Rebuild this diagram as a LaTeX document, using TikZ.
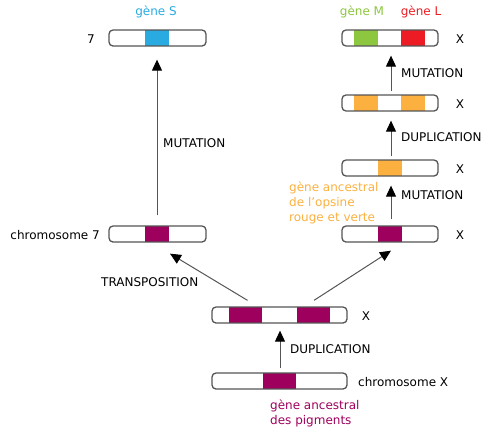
\documentclass[tikz,border=0pt]{standalone}
\usepackage{fontspec}
\setmainfont{DejaVu Sans}
\usetikzlibrary{arrows.meta}
\definecolor{cblue}{HTML}{29ABE2}
\definecolor{cgreen}{HTML}{8DC63F}
\definecolor{cred}{HTML}{ED1C24}
\definecolor{corange}{HTML}{FBB040}
\definecolor{cmag}{HTML}{9E005D}
\definecolor{cline}{HTML}{555555}
\tikzset{
  chrom/.style={draw=cline, line width=1.3pt, rounded corners=4pt, minimum height=16pt, inner sep=0pt},
  arr/.style={draw=cline, line width=1pt, -{Triangle[length=11pt,width=10pt,color=black,fill=black]}},
  lbl/.style={font=\fontsize{12}{14}\selectfont, inner sep=0pt},
  glbl/.style={lbl, align=left},
}
\begin{document}
\begin{tikzpicture}[x=1pt,y=-1pt]
\useasboundingbox (0,0) rectangle (497,432);
% bands
\fill[cblue] (145,30) rectangle (169,46);
\fill[cmag] (145,226) rectangle (169,242);
\fill[cgreen] (354,30) rectangle (378,46);
\fill[cred] (401,30) rectangle (425,46);
\fill[corange] (354,95) rectangle (378,111);
\fill[corange] (401,95) rectangle (425,111);
\fill[corange] (378,160) rectangle (402,176);
\fill[cmag] (378,226) rectangle (402,242);
\fill[cmag] (229,307) rectangle (262,323);
\fill[cmag] (297,307) rectangle (330,323);
\fill[cmag] (263,373) rectangle (296,389);
% chromosomes
\node[chrom, minimum width=97pt] (s7) at (157.5,38) {};
\node[chrom, minimum width=97pt] (c7) at (157.5,234) {};
\node[chrom, minimum width=96pt] (ml) at (390,38) {};
\node[chrom, minimum width=96pt] (oo) at (390,103) {};
\node[chrom, minimum width=96pt] (o1) at (390,168) {};
\node[chrom, minimum width=96pt] (xm) at (390,234) {};
\node[chrom, minimum width=135pt] (xd) at (279.5,315) {};
\node[chrom, minimum width=135pt] (x0) at (279.5,381) {};
% labels
\node[lbl, text=cblue] (gS) at (156,12) {gène S};
\node[lbl, text=cgreen] (gM) at (362,12) {gène M};
\node[lbl, text=cred] (gL) at (421,12) {gène L};
\node[lbl] (l7) at (91,39) {7};
\node[lbl, anchor=east] (lc7) at (100,235) {chromosome 7};
\node[lbl] (x1) at (460,39) {X};
\node[lbl] (x2) at (460,104) {X};
\node[lbl] (x3) at (460,169) {X};
\node[lbl] (x4) at (460,235) {X};
\node[lbl] (x5) at (366,316) {X};
\node[lbl, anchor=west] (lcx) at (358,382) {chromosome X};
\node[lbl, anchor=west] (m1) at (163,143) {MUTATION};
\node[lbl, anchor=west] (m2) at (401,73) {MUTATION};
\node[lbl, anchor=west] (d1) at (401,137) {DUPLICATION};
\node[lbl, anchor=west] (m3) at (401,195) {MUTATION};
\node[lbl, anchor=west] (d2) at (290,349) {DUPLICATION};
\node[lbl, anchor=west] (tr) at (101,282) {TRANSPOSITION};
\node[glbl, text=corange, anchor=north west, font=\fontsize{12}{15}\selectfont] (gop) at (289,182) {gène ancestral\\de l’opsine\\rouge et verte};
\node[glbl, text=cmag, anchor=north west, font=\fontsize{12}{15}\selectfont] (gpig) at (270,400) {gène ancestral\\des pigments};
% arrows
\draw[arr] ([xshift=-0.5pt,yshift=10pt]c7.north) -- ([xshift=-0.5pt,yshift=-13pt]s7.south);
\draw[arr] ([xshift=1pt,yshift=3pt]oo.north) -- ([xshift=1pt,yshift=-9pt]ml.south);
\draw[arr] ([xshift=1pt,yshift=3pt]o1.north) -- ([xshift=1pt,yshift=-9pt]oo.south);
\draw[arr] ([xshift=1pt,yshift=6pt]xm.north) -- ([xshift=1pt,yshift=-9pt]o1.south);
\draw[arr] ([xshift=0.5pt,yshift=4pt]x0.north) -- ([xshift=0.5pt,yshift=-7pt]xd.south);
\draw[arr] ([xshift=-32pt,yshift=6pt]xd.north) -- ([xshift=12.5pt,yshift=-11pt]c7.south);
\draw[arr] ([xshift=34.5pt,yshift=6pt]xd.north) -- ([xshift=1pt,yshift=-8pt]xm.south);
\end{tikzpicture}
\end{document}
